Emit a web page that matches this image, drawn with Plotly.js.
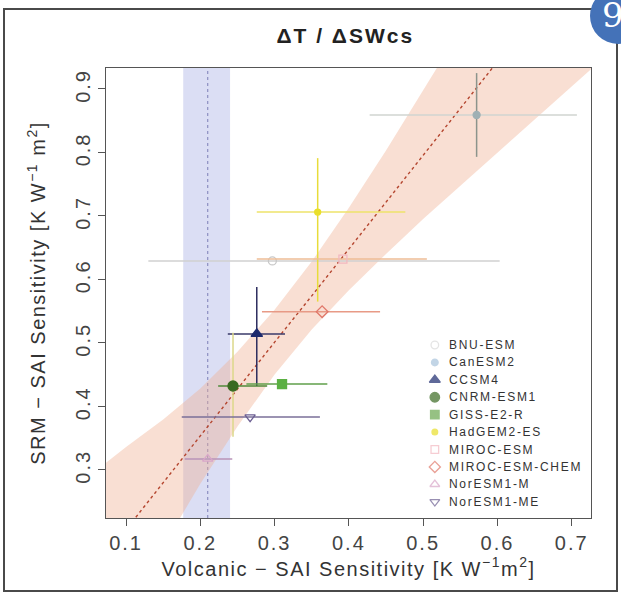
<!DOCTYPE html>
<html>
<head>
<meta charset="utf-8">
<script src="https://cdn.plot.ly/plotly-3.0.1.min.js"></script>
<style>
  html, body { margin: 0; padding: 0; background: #fff; }
  #wrap { position: relative; width: 621px; height: 596px; overflow: hidden; }
  #chart { position: absolute; left: 0; top: 0; width: 621px; height: 596px; }
  #frame { position: absolute; left: 3px; top: 8px; width: 611px; height: 580px; border: 2px solid #4a4a4a; pointer-events: none; }
  #badge { position: absolute; left: 590px; top: -12px; width: 56px; height: 56px; border-radius: 50%; background: #4472b8; pointer-events: none; }
  #badge span { position: absolute; left: 12px; top: 10px; color: #fff; font-family: "DejaVu Serif", serif; font-size: 34px; line-height: 34px; }
  .xtick text, .ytick text { letter-spacing: 2px; }
  .xtitle, .ytitle { letter-spacing: 1.5px; }
  .gtitle { letter-spacing: 2px; }
  .annotation-text { letter-spacing: 1.7px; }
</style>
</head>
<body>
<div id="wrap">
  <div id="chart"></div>
  <div id="frame"></div>
  <div id="badge"><span>9</span></div>
</div>
<script>
// ---- data ----
const models = ['BNU-ESM','CanESM2','CCSM4','CNRM-ESM1','GISS-E2-R','HadGEM2-ES','MIROC-ESM','MIROC-ESM-CHEM','NorESM1-M','NorESM1-ME'];
const volcSens = [0.297, 0.572, 0.276, 0.244, 0.310, 0.358, 0.392, 0.364, 0.210, 0.267];
const srmSens  = [0.629, 0.859, 0.514, 0.432, 0.435, 0.706, 0.632, 0.549, 0.317, 0.383];
const volcLow  = [0.130, 0.428, 0.237, 0.224, 0.262, 0.276, 0.276, 0.283, 0.179, 0.175];
const volcHigh = [0.603, 0.707, 0.314, 0.290, 0.371, 0.476, 0.505, 0.442, 0.243, 0.361];
const srmLow   = [null,  0.793, 0.432, 0.352, null,  0.565, null,  null,  null,  null ];
const srmHigh  = [null,  0.925, 0.588, 0.516, null,  0.791, null,  null,  null,  null ];

// regression line and its confidence band
const bandX     = [0.073, 0.10, 0.15, 0.20, 0.25, 0.30, 0.35, 0.40, 0.45, 0.50, 0.55, 0.60, 0.65, 0.70, 0.726];
const bandFit   = [0.166, 0.206, 0.279, 0.353, 0.427, 0.501, 0.574, 0.648, 0.722, 0.796, 0.869, 0.943, 1.017, 1.091, 1.129];
const bandUpper = [0.311, 0.336, 0.379, 0.428, 0.486, 0.552, 0.628, 0.713, 0.803, 0.896, 0.991, 1.086, 1.181, 1.277, 1.327];
const bandLower = [0.021, 0.076, 0.179, 0.278, 0.368, 0.450, 0.521, 0.583, 0.640, 0.695, 0.748, 0.800, 0.852, 0.904, 0.931];

// volcanic observational estimate (vertical band)
const volcObsMean = 0.210;
const volcObsLow  = 0.177;
const volcObsHigh = 0.240;

const xTicks = [0.1, 0.2, 0.3, 0.4, 0.5, 0.6, 0.7];
const yTicks = [0.3, 0.4, 0.5, 0.6, 0.7, 0.8, 0.9];

// ---- styles ----
const symbols = ['circle-open','circle','triangle-up','circle','square','circle','square-open','diamond-open','triangle-up-open','triangle-down-open'];
const colors  = ['#c8c8c8','#9fb0b4','#1c2a6e','#3a6a22','#5bb043','#e9df2a','#f2b8c0','#e0786a','#d9a6c9','#6c5f92'];
const legColors = ['#d8d8d8','#a9c4dc','#1c2a6e','#3a6a22','#6aa84f','#e9df2a','#f2b8c0','#e0786a','#d9a6c9','#6c5f92'];
const errXCol = ['#d0d0d0','#d0d4d0','#3a3a6a','#4f8a3a','#5f9f4a','#eee36a','#eebc96','#e89a86','#b893b8','#7a6f98'];
const errYCol = ['#c4c4c4','#8c948c','#2c2c5e','#dcd88a','#5f9f4a','#e8dc3a','#eebc96','#e89a86','#b893b8','#7a6f98'];
const sizes   = [8, 7, 10, 10, 9, 6, 8, 9, 9, 9];

// legend placement (plot-area fractions)
const legSymX = 0.678, legTextX = 0.703, legTop = 0.3844, legStep = 0.0387;

const traces = [];

traces.push({
  x: bandX.concat(bandX.slice().reverse()),
  y: bandUpper.concat(bandLower.slice().reverse()),
  type: 'scatter', mode: 'lines', fill: 'toself',
  fillcolor: 'rgba(240,175,145,0.40)', line: {width: 0},
  hoverinfo: 'skip', showlegend: false
});
traces.push({
  x: bandX, y: bandFit, type: 'scatter', mode: 'lines',
  line: {color: '#b4452e', width: 1.4, dash: 'dot'},
  hoverinfo: 'skip', showlegend: false
});

models.forEach((m, i) => {
  const t = {
    x: [volcSens[i]], y: [srmSens[i]], name: m,
    type: 'scatter', mode: 'markers', showlegend: false,
    marker: {symbol: symbols[i], color: colors[i], size: sizes[i], line: {color: colors[i], width: 1.3}},
    error_x: {type: 'data', symmetric: false,
      array: [volcHigh[i] - volcSens[i]], arrayminus: [volcSens[i] - volcLow[i]],
      color: errXCol[i], thickness: 1.5, width: 0}
  };
  if (srmLow[i] !== null) {
    t.error_y = {type: 'data', symmetric: false,
      array: [srmHigh[i] - srmSens[i]], arrayminus: [srmSens[i] - srmLow[i]],
      color: errYCol[i], thickness: 1.5, width: 0};
  }
  traces.push(t);
});

// manual legend (symbols)
traces.push({
  x: models.map(() => legSymX),
  y: models.map((m, i) => legTop - i * legStep),
  xaxis: 'x2', yaxis: 'y2', type: 'scatter', mode: 'markers', showlegend: false, hoverinfo: 'skip',
  marker: {symbol: symbols, color: legColors, size: sizes.map(s => s * 0.95), line: {color: legColors, width: 1.3}},
  cliponaxis: false
});

const annotations = models.map((m, i) => ({
  text: m, xref: 'x2', yref: 'y2', x: legTextX, y: legTop - i * legStep,
  xanchor: 'left', yanchor: 'middle', showarrow: false,
  font: {size: 12, color: '#333', family: 'Liberation Sans, Arial, sans-serif'}
}));

const layout = {
  width: 621, height: 596,
  margin: {l: 106, r: 30, t: 68, b: 78},
  paper_bgcolor: '#ffffff', plot_bgcolor: '#ffffff',
  font: {family: 'Liberation Sans, Arial, sans-serif', color: '#333'},
  title: {text: '<b>\u0394T / \u0394SWcs</b>', x: 0.556, xanchor: 'center', y: 0.94, yanchor: 'middle',
          font: {size: 21, color: '#222', family: 'Liberation Sans, Arial, sans-serif'}},
  xaxis: {
    range: [0.073, 0.726], tickmode: 'array', tickvals: xTicks, ticktext: xTicks.map(v => v.toFixed(1)),
    showgrid: false, zeroline: false, showline: true, linecolor: '#555', linewidth: 1.2, mirror: true,
    ticks: 'outside', ticklen: 7, tickcolor: '#555', tickfont: {size: 20, color: '#444'}, automargin: false,
    title: {text: 'Volcanic \u2212 SAI Sensitivity [K W<sup>\u22121</sup>m<sup>2</sup>]', font: {size: 20, color: '#333'}, standoff: 4}
  },
  yaxis: {
    range: [0.224, 0.933], tickmode: 'array', tickvals: yTicks, ticktext: yTicks.map(v => v.toFixed(1)),
    showgrid: false, zeroline: false, showline: true, linecolor: '#555', linewidth: 1.2, mirror: true,
    ticks: 'outside', ticklen: 7, tickcolor: '#555', tickfont: {size: 20, color: '#444'}, tickangle: -90, automargin: false,
    title: {text: 'SRM \u2212 SAI Sensitivity [K W<sup>\u22121</sup> m<sup>2</sup>]', font: {size: 20, color: '#333'}, standoff: 20}
  },
  xaxis2: {overlaying: 'x', range: [0, 1], visible: false, fixedrange: true},
  yaxis2: {overlaying: 'y', range: [0, 1], visible: false, fixedrange: true},
  shapes: [
    {type: 'rect', xref: 'x', yref: 'paper', x0: volcObsLow, x1: volcObsHigh, y0: 0, y1: 1,
     fillcolor: 'rgba(125,135,215,0.28)', line: {width: 0}, layer: 'below'},
    {type: 'line', xref: 'x', yref: 'paper', x0: volcObsMean, x1: volcObsMean, y0: 0, y1: 1,
     line: {color: 'rgba(60,60,140,0.6)', width: 1, dash: 'dot'}, layer: 'below'}
  ],
  annotations: annotations,
  showlegend: false
};

Plotly.newPlot('chart', traces, layout, {displayModeBar: false, staticPlot: true});
</script>
</body>
</html>
